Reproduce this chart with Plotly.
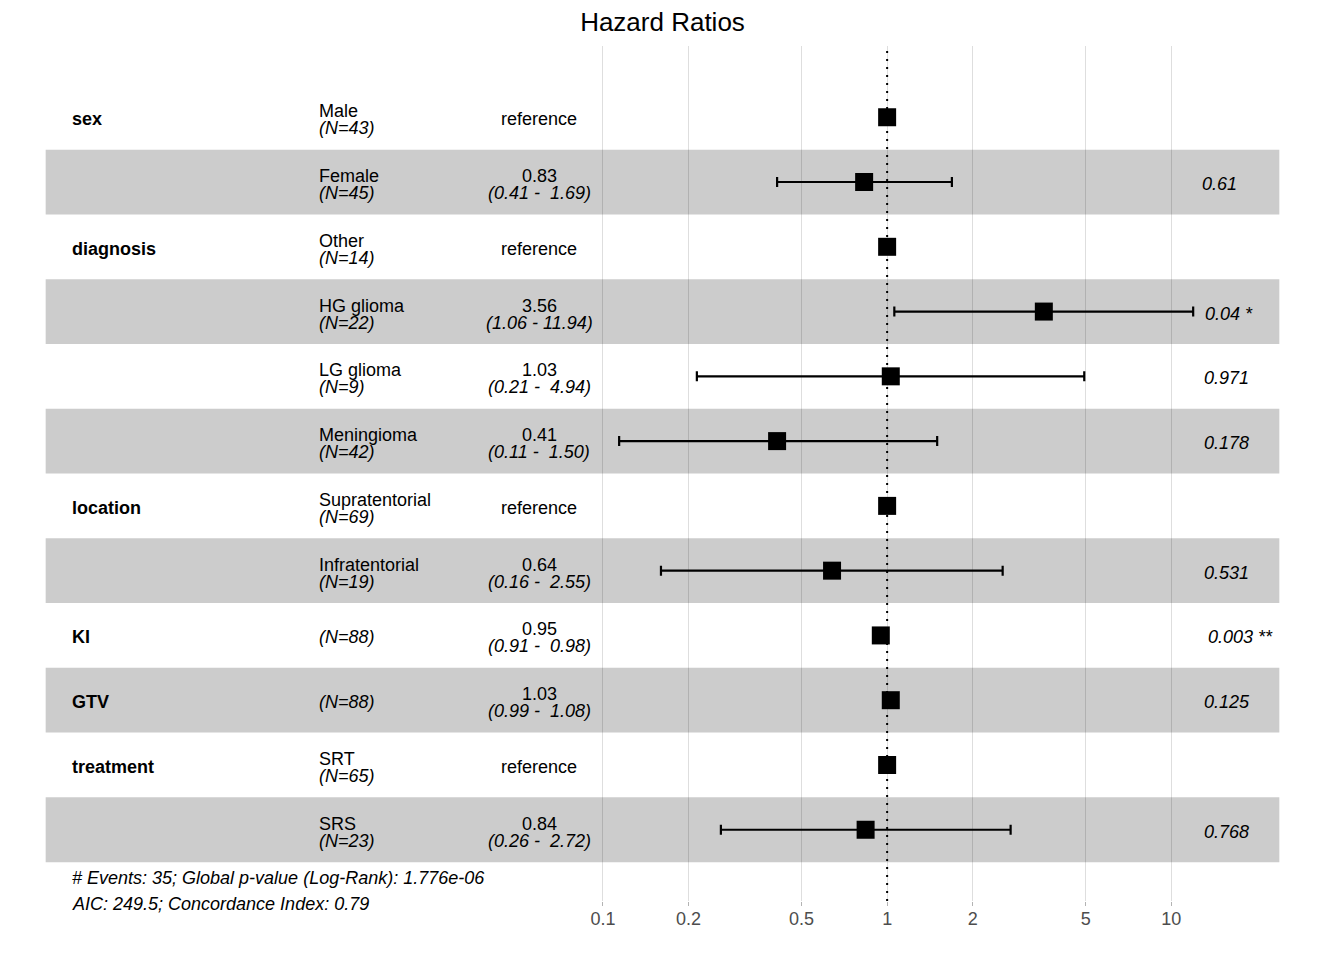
import math
import plotly.graph_objects as go

# data (Cox model hazard ratios)
variables = ["sex", "", "diagnosis", "", "", "", "location", "", "KI", "GTV", "treatment", ""]
levels = ["Male", "Female", "Other", "HG glioma", "LG glioma", "Meningioma",
          "Supratentorial", "Infratentorial", "", "", "SRT", "SRS"]
n_obs = [43, 45, 14, 22, 9, 42, 69, 19, 88, 88, 65, 23]
hr = [1, 0.83, 1, 3.56, 1.03, 0.41, 1, 0.64, 0.95, 1.03, 1, 0.84]
ci_low = [None, 0.41, None, 1.06, 0.214, 0.114, None, 0.16, 0.91, 0.99, None, 0.26]
ci_high = [None, 1.69, None, 11.94, 4.94, 1.50, None, 2.55, 0.98, 1.08, None, 2.72]
p_labels = ["", "0.61", "", "0.04 *", "0.971", "0.178", "", "0.531", "0.003 **", "0.125", "", "0.768"]
breaks = [0.1, 0.2, 0.5, 1, 2, 5, 10]
footnote = ["# Events: 35; Global p-value (Log-Rank): 1.776e-06",
            "AIC: 249.5; Concordance Index: 0.79"]

FONT = "Liberation Sans, Arial, sans-serif"
FS = 18
# page body has an 8px margin, so the figure is a bit smaller than the window
WIDTH, HEIGHT = 1313, 958

nrow = len(levels)
ypos = [nrow - i for i in range(nrow)]   # top row = 12, bottom = 1
is_ref = [lo is None for lo in ci_low]

# column positions as in ggforest (fractions of the striped band)
band0, band1 = 0.02 / 1.04, 1.02 / 1.04
col = [band0 + f * (band1 - band0) for f in (0.02, 0.22, 0.4)]

# rough Arial widths (per 1000 em), used for the hjust=-0.2 of the p values
W = {".": 278, " ": 278, "*": 389}
def text_w(s):
    return sum(W.get(c, 556) for c in s) * FS / 1000

fig = go.Figure()

# estimates with CI
idx = [i for i in range(nrow) if not is_ref[i]]
fig.add_trace(go.Scatter(
    x=[hr[i] for i in idx], y=[ypos[i] for i in idx], mode="markers",
    marker=dict(symbol="square", size=18, color="black"),
    error_x=dict(type="data", symmetric=False,
                 array=[ci_high[i] - hr[i] for i in idx],
                 arrayminus=[hr[i] - ci_low[i] for i in idx],
                 color="black", thickness=2.2, width=5),
    hoverinfo="skip", showlegend=False))
# reference levels
ridx = [i for i in range(nrow) if is_ref[i]]
fig.add_trace(go.Scatter(
    x=[hr[i] for i in ridx], y=[ypos[i] for i in ridx], mode="markers",
    marker=dict(symbol="square", size=18, color="black"),
    hoverinfo="skip", showlegend=False))

shapes = []
for i in range(nrow):
    if i % 2 == 1:
        shapes.append(dict(type="rect", xref="paper", yref="y", x0=band0, x1=band1,
                           y0=ypos[i] - 0.5, y1=ypos[i] + 0.5,
                           fillcolor="#CCCCCC", line=dict(width=0), layer="below"))
shapes.append(dict(type="line", xref="x", yref="paper", x0=1, x1=1, y0=0, y1=1,
                   line=dict(color="black", width=2, dash="2px,6px"), layer="between"))

UP, MID, LOW = 6, -2, -11   # vertical text offsets (px) within a row

ann = []
xstar = math.log10(max(v for v in ci_high if v is not None))  # log axis -> log10 units
for i in range(nrow):
    y = ypos[i]
    if variables[i]:
        ann.append(dict(x=col[0], y=y, xref="paper", yref="y", text="<b>%s</b>" % variables[i],
                        xanchor="left", yanchor="middle", yshift=MID, showarrow=False))
    ntxt = "<i>(N=%d)</i>" % n_obs[i]
    if levels[i]:
        ann.append(dict(x=col[1], y=y, xref="paper", yref="y", text=levels[i],
                        xanchor="left", yanchor="middle", yshift=UP, showarrow=False))
        ann.append(dict(x=col[1], y=y, xref="paper", yref="y", text=ntxt,
                        xanchor="left", yanchor="middle", yshift=LOW, showarrow=False))
    else:
        ann.append(dict(x=col[1], y=y, xref="paper", yref="y", text=ntxt,
                        xanchor="left", yanchor="middle", yshift=MID, showarrow=False))
    if is_ref[i]:
        ann.append(dict(x=col[2], y=y, xref="paper", yref="y", text="reference",
                        xanchor="center", yanchor="middle", yshift=MID, showarrow=False))
    else:
        ci = "(%.2f - %5.2f)" % (ci_low[i], ci_high[i])
        ci = ci.replace("  ", " \u00a0")
        ann.append(dict(x=col[2], y=y, xref="paper", yref="y", text="%.2f" % hr[i],
                        xanchor="center", yanchor="middle", yshift=UP, showarrow=False))
        ann.append(dict(x=col[2], y=y, xref="paper", yref="y", text="<i>%s</i>" % ci,
                        xanchor="center", yanchor="middle", yshift=LOW, showarrow=False))
    if p_labels[i]:
        ann.append(dict(x=xstar, y=y, xref="x", yref="y", text="<i>%s</i>" % p_labels[i],
                        xanchor="left", yanchor="middle", xshift=0.2 * text_w(p_labels[i]),
                        yshift=MID, showarrow=False))

for k, line in enumerate(footnote):
    ann.append(dict(x=col[0], y=0.5, xref="paper", yref="y", text="<i>%s</i>" % line,
                    xanchor="left", yanchor="middle", yshift=-16 - 26 * k, showarrow=False))

fig.update_layout(
    width=WIDTH, height=HEIGHT,
    margin=dict(l=13, r=17, t=38, b=65),
    paper_bgcolor="white", plot_bgcolor="white",
    font=dict(family=FONT, size=FS, color="black"),
    title=dict(text="Hazard Ratios", x=0.5, xref="paper", xanchor="center",
               y=1 - 14 / HEIGHT, yref="container", yanchor="middle",
               font=dict(size=26, color="black")),
    xaxis=dict(type="log", range=[-3.048, 1.467], tickvals=breaks,
               ticktext=["%g" % b for b in breaks],
               showgrid=True, gridcolor="rgba(0,0,0,0.13)", gridwidth=1,
               zeroline=False, showline=False,
               ticks="outside", ticklen=4, tickcolor="#B3B3B3",
               ticklabelstandoff=-3,
               tickfont=dict(size=FS, color="#4D4D4D")),
    yaxis=dict(range=[-0.1, 13.1], visible=False, showgrid=False, zeroline=False),
    shapes=shapes,
    annotations=ann,
)

fig.write_html("out.html")
